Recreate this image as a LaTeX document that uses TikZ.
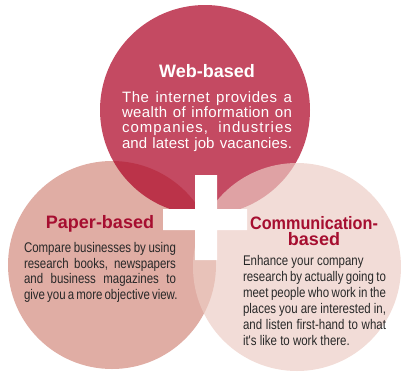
\documentclass[tikz,border=0pt]{standalone}
\usepackage{fontspec}
\setmainfont{Liberation Sans}
\newfontfamily\narrowfont[FakeStretch=0.82]{Liberation Sans}
\newfontfamily\webfont{Liberation Sans}
\newfontfamily\commtitlefont[FakeStretch=0.9]{Liberation Sans}
\definecolor{topc}{RGB}{174,7,40}
\definecolor{leftc}{RGB}{224,173,164}
\definecolor{rightc}{RGB}{236,204,196}
\definecolor{titlered}{RGB}{166,14,48}
\definecolor{bodygray}{RGB}{40,40,40}
\newcommand{\jline}[2]{\hbox{\makebox[#1][s]{#2}}}
\newcommand{\lline}[2]{\hbox{\makebox[#1][l]{#2}}}
\newcommand{\lsline}[3]{\hbox{\makebox[#1][s]{\addfontfeature{LetterSpace=#2}#3}}}
\begin{document}
\begin{tikzpicture}[x=1pt,y=-1pt,
  txt/.style={inner sep=0pt,outer sep=0pt},
  title/.style={txt,anchor=base,font=\fontsize{18}{18}\selectfont\bfseries}]
\useasboundingbox (0,0) rectangle (401,373);
% circles
\fill[leftc] (112,265) circle[radius=104];
\fill[topc,opacity=0.73] (205,110) circle[radius=105];
\fill[rightc,opacity=0.68] (297,267) circle[radius=104];
% plus
\fill[white] (163,209) rectangle (247,230) (195,175) rectangle (217,260);
% web-based
\node[title,text=white] (webt) at (207,77) {Web-based};
\node[txt,anchor=base west,text=white] (webb) at (122,102)
  {\vtop{\webfont\fontsize{15}{15.4}\selectfont\baselineskip=15.4pt
  \lsline{170pt}{4}{The internet provides a}
  \lsline{170pt}{2.5}{wealth of information on}
  \lsline{170pt}{7}{companies, industries}
  \lsline{170pt}{1}{and latest job vacancies.}}};
% paper-based
\node[title,text=titlered] (papt) at (100,228) {Paper-based};
\node[txt,anchor=base west,text=bodygray] (papb) at (24,252.5)
  {\vtop{\narrowfont\fontsize{14}{15.5}\selectfont\baselineskip=15.5pt
  \jline{152pt}{Compare businesses by using}
  \jline{152pt}{research books, newspapers}
  \jline{152pt}{and business magazines to}
  \jline{152pt}{give you a more objective view.}}};
% communication-based
\node[txt,anchor=base,text=titlered] (comt) at (314,229)
  {\vtop{\bfseries\fontsize{18}{16}\selectfont\baselineskip=16pt
  \hbox to 132pt{\hss\commtitlefont\bfseries Communication-\hss}
  \hbox to 132pt{\hss based\hss}}};
\node[txt,anchor=base west,text=bodygray] (comb) at (243,265)
  {\vtop{\narrowfont\fontsize{14}{16}\selectfont\baselineskip=16pt
  \lline{143pt}{Enhance your company}
  \jline{143pt}{research by actually going to}
  \jline{143pt}{meet people who work in the}
  \jline{143pt}{places you are interested in,}
  \jline{143pt}{and listen first-hand to what}
  \lline{143pt}{it's like to work there.}}};
\end{tikzpicture}
\end{document}
